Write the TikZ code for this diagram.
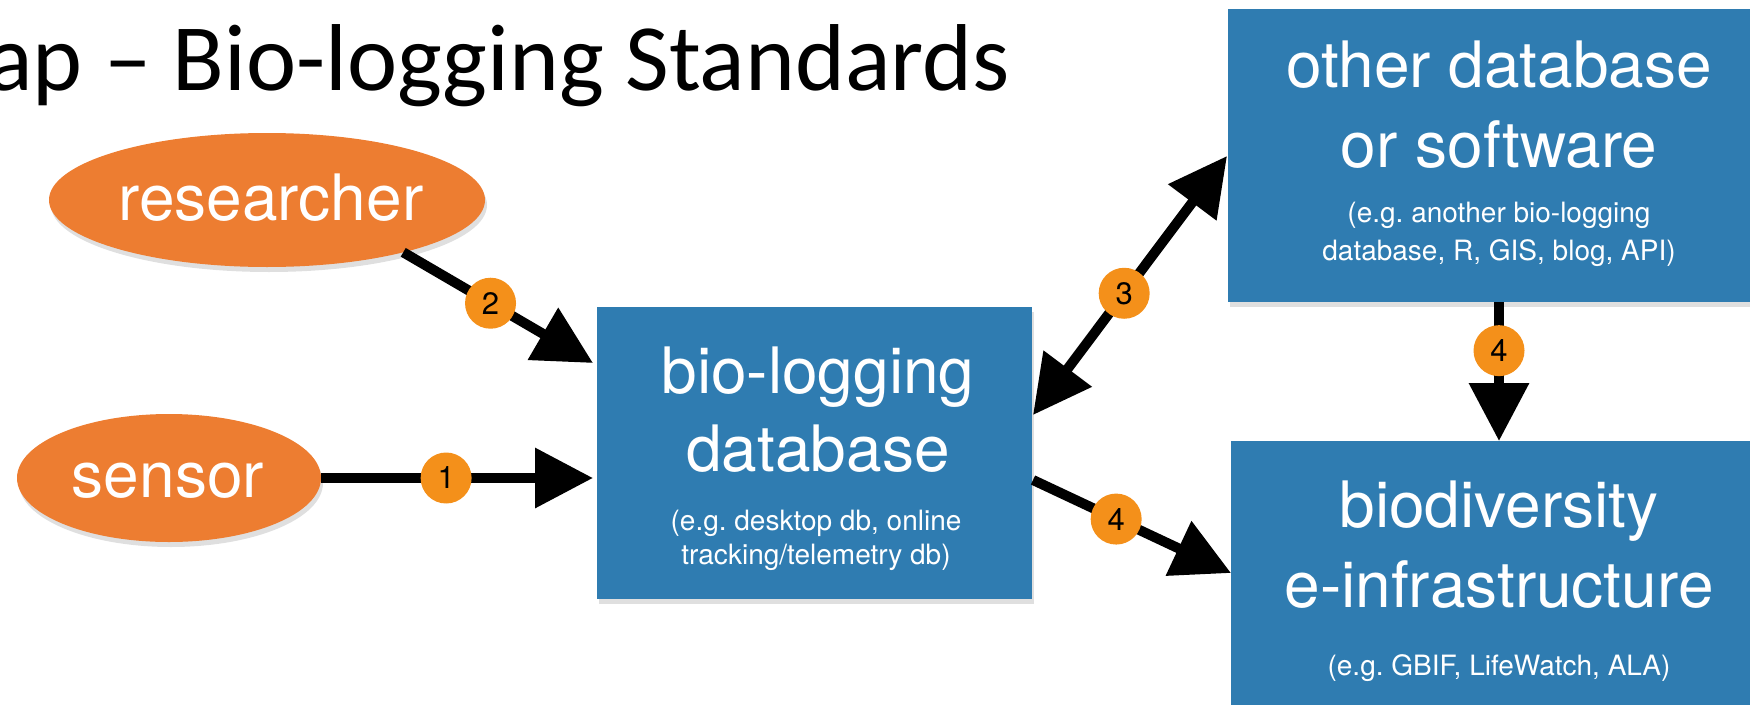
\documentclass[tikz,border=0pt]{standalone}
\usepackage{fontspec}
\setmainfont{TeX Gyre Heros}
\newfontfamily\titlefont{Carlito}
\usetikzlibrary{arrows.meta,shapes.geometric,shadows,calc}
\definecolor{boxblue}{HTML}{2F7CB1}
\definecolor{ellorange}{HTML}{ED7D31}
\definecolor{badgeorange}{HTML}{F4901A}
\frenchspacing
\begin{document}
\begin{tikzpicture}[x=1pt,y=-1pt,
  bigtxt/.style={text=white, font=\fontsize{64}{64}\selectfont, anchor=base, inner sep=0pt},
  subtxt/.style={text=white, font=\fontsize{28}{28}\selectfont, anchor=base, inner sep=0pt},
  box/.style={rectangle, fill=boxblue, draw=none, inner sep=0pt, outer sep=0pt,
    drop shadow={shadow xshift=2pt, shadow yshift=-5pt, opacity=0.25}},
  actor/.style={ellipse, fill=ellorange, draw=none, inner sep=0pt, outer sep=0pt,
    drop shadow={shadow xshift=2pt, shadow yshift=-5pt, opacity=0.25}},
  badge/.style={circle, fill=badgeorange, draw=none, minimum size=51pt, inner sep=0pt,
    font=\fontsize{31}{31}\selectfont, text=black},
  conn/.style={line width=10pt, draw=black, -{Triangle[length=58pt,width=58pt]}},
  conntwo/.style={line width=10pt, draw=black, {Triangle[length=58pt,width=58pt]}-{Triangle[length=58pt,width=58pt]}},
]
\useasboundingbox (0,0) rectangle (1750,704);

% title
\node[font=\titlefont\fontsize{95}{95}\selectfont, anchor=base east, inner sep=0pt] (title) at (1010,90) {ap – Bio-logging Standards};

% boxes
\node[box, minimum width=435pt, minimum height=292pt] (db) at (814.5,453) {};
\node[box, minimum width=542pt, minimum height=293pt] (other) at (1499,155.5) {};
\node[box, minimum width=536pt, minimum height=293pt] (biodiv) at (1499,587.5) {};

% actors
\node[actor, minimum width=436pt, minimum height=134pt] (researcher) at (267,200) {};
\node[actor, minimum width=304pt, minimum height=128pt] (sensor) at (169,478) {};

% texts
\node[bigtxt] (researcher-t) at (271,220) {researcher};
\node[bigtxt] (sensor-t) at (168,497) {sensor};

\node[bigtxt] (db-t1) at (818,393) {bio-logging};
\node[bigtxt] (db-t2) at (818,471) {database};
\node[subtxt] (db-t3) at (816,530) {(e.g. desktop db, online};
\node[subtxt] (db-t4) at (816,564) {tracking/telemetry db)};

\node[bigtxt] (other-t1) at (1499,87) {other database};
\node[bigtxt] (other-t2) at (1499,167) {or software};
\node[subtxt] (other-t3) at (1499,222) {(e.g. another bio-logging};
\node[subtxt] (other-t4) at (1499,260) {database, R, GIS, blog, API)};

\node[bigtxt] (bio-t1) at (1499,527) {biodiversity};
\node[bigtxt] (bio-t2) at (1499,607) {e-infrastructure};
\node[subtxt] (bio-t3) at (1499,675) {(e.g. GBIF, LifeWatch, ALA)};

% connector end points
\coordinate (t1) at ($(sensor.east -| db.west)+(-4,0)$);
\coordinate (t2) at ($(db.north west)+(-4,56)$);
\coordinate (a3s) at ($(db.north east)+(1,108)$);
\coordinate (a3e) at ($(other.north west)+(-1,147)$);
\coordinate (a4s) at ($(db.north east)+(1,173)$);
\coordinate (a4e) at ($(biodiv.north west)+(0,132)$);

% connectors
\draw[conn] (sensor.east) -- (t1) node[badge, pos=0.46] (b1) {1};
\draw[conn] (researcher.-21) -- (t2) node[badge, pos=0.46] (b2) {2};
\draw[conntwo] (a3s) -- (a3e) node[badge, pos=0.47] (b3) {3};
\draw[conn] (a4s) -- (a4e) node[badge, pos=0.42] (b4a) {4};
\draw[conn] (other.south) -- (biodiv.north) node[badge, pos=0.35] (b4b) {4};
\end{tikzpicture}
\end{document}
